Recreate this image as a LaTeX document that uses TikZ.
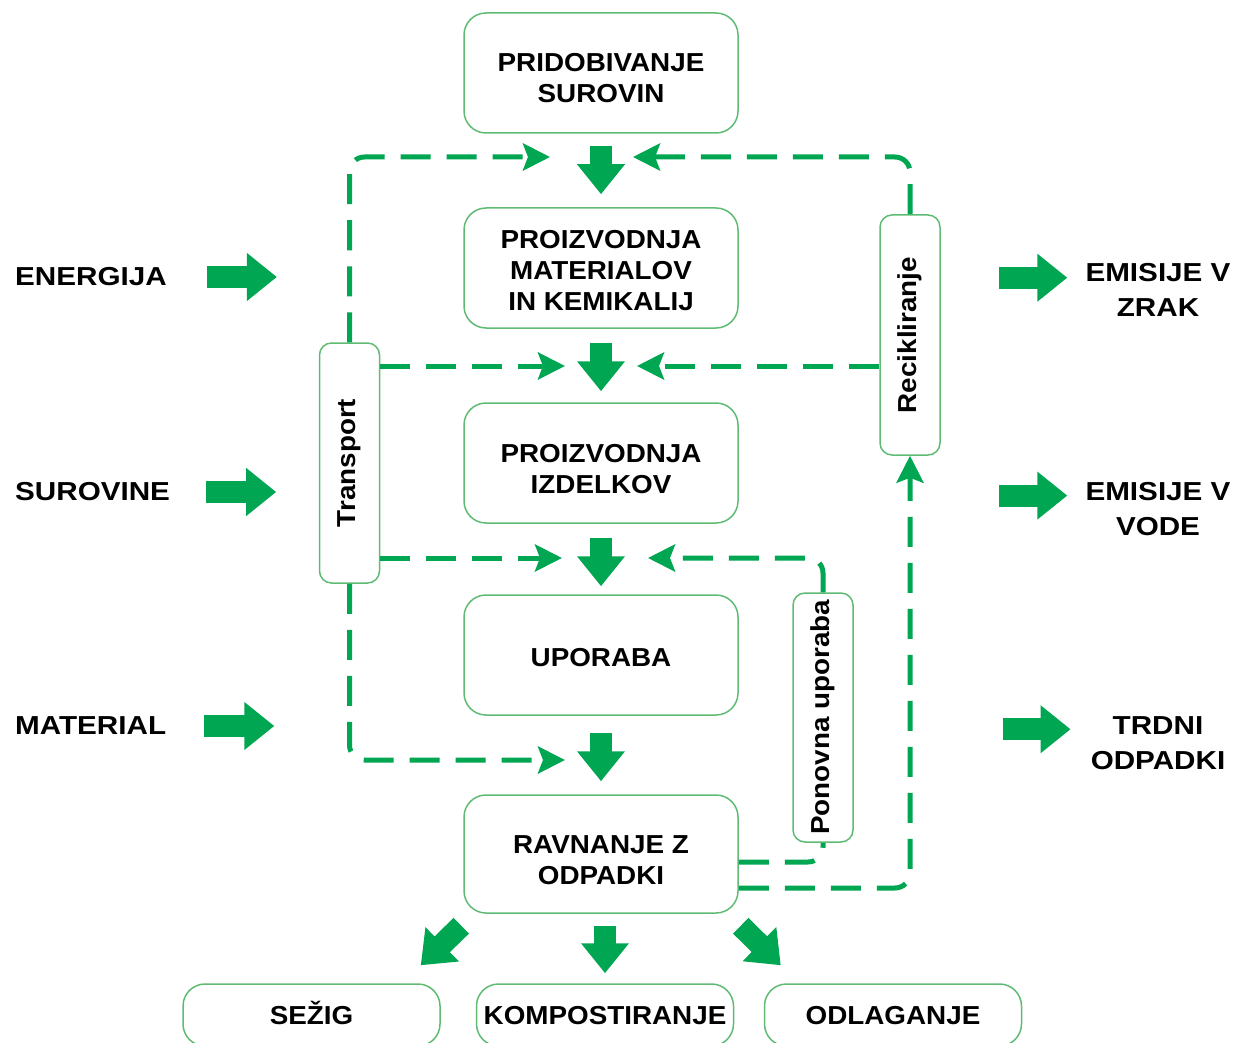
\documentclass[tikz,border=0pt]{standalone}
\usepackage{fontspec}
\setmainfont{Liberation Sans}
\newfontfamily\stagefam{Liberation Sans}[FakeStretch=1.07]
\newfontfamily\sidefam{Liberation Sans}[FakeStretch=1.14]
\usepackage{tikz}
\usetikzlibrary{arrows.meta,calc}
\definecolor{arrgreen}{RGB}{0,166,81}
\definecolor{boxgreen}{RGB}{95,187,115}
\newcommand{\boxfont}{\stagefam\fontsize{26}{31}\selectfont\bfseries}
\newcommand{\sidefont}{\sidefam\fontsize{26}{35}\selectfont\bfseries}

\begin{document}
\begin{tikzpicture}[x=1pt,y=-1pt,
    stage/.style={draw=boxgreen, line width=1.5pt, rounded corners=22pt, minimum width=274pt,
      minimum height=120pt, inner sep=0pt, align=center, font=\boxfont},
    endbox/.style={stage, minimum width=257pt, minimum height=62pt, text height=19pt, text depth=0pt},
    vbox/.style={draw=boxgreen, line width=1.5pt, rounded corners=12pt, minimum width=60pt,
      inner sep=0pt, font=\boxfont},
    side/.style={inner sep=0pt, align=center, font=\sidefont},
    blk/.style={arrgreen, line width=22pt, -{Triangle[length=30pt,width=46pt]}},
    flowline/.style={arrgreen, line width=5pt, dash pattern=on 30pt off 16pt, rounded corners=15pt},
    flow/.style={flowline, -{Stealth[length=27pt,width=27pt,inset=5pt]}}]
  \useasboundingbox (0,0) rectangle (1234,1043);

  % main chain
  \node[stage, text height=60pt] (pri) at (601,73) {PRIDOBIVANJE\\SUROVIN};
  \node[stage, text height=86pt] (mat) at (601,268) {PROIZVODNJA\\MATERIALOV\\IN KEMIKALIJ};
  \node[stage, text height=61pt] (izd) at (601,463) {PROIZVODNJA\\IZDELKOV};
  \node[stage, text height=24pt] (upo) at (601,655) {UPORABA};
  \node[stage, text height=61pt, minimum height=118pt] (rav) at (601,854) {RAVNANJE Z\\ODPADKI};
  \node[endbox] (sez) at (311.5,1015) {SEŽIG};
  \node[endbox] (kom) at (605,1015) {KOMPOSTIRANJE};
  \node[endbox] (odl) at (893,1015) {ODLAGANJE};

  % side boxes
  \node[vbox, minimum height=240pt] (tra) at (349.5,463) {\rotatebox{90}{Transport}};
  \node[vbox, minimum height=240pt] (rec) at (910,335) {\rotatebox{90}{Recikliranje}};
  \node[vbox, minimum height=249pt] (pon) at (823,717.5) {\rotatebox{90}{Ponovna uporaba}};

  % inputs and outputs
  \node[side, anchor=west] (ene) at (15,277) {ENERGIJA};
  \node[side, anchor=west] (sur) at (15,492) {SUROVINE};
  \node[side, anchor=west] (mtl) at (15,726) {MATERIAL};
  \node[side] (zra) at (1158,289.5) {EMISIJE V\\ZRAK};
  \node[side] (vod) at (1158,509.5) {EMISIJE V\\VODE};
  \node[side] (odp) at (1158,743) {TRDNI\\ODPADKI};

  \draw[blk] ($(ene.east)+(40,0)$) -- ++(70,0);
  \draw[blk] ($(sur.east)+(36,0)$) -- ++(70,0);
  \draw[blk] ($(mtl.east)+(38,0)$) -- ++(70,0);
  \draw[blk] ($(zra.north west)+(-86,15)$) -- ++(68,0);
  \draw[blk] ($(vod.north west)+(-86,13)$) -- ++(68,0);
  \draw[blk] ($(odp.north west)+(-88,13)$) -- ++(68,0);

  % block arrows down the chain
  \draw[blk, shorten <=12pt, shorten >=13pt] (pri.south) -- (mat.north);
  \draw[blk, shorten <=14pt, shorten >=11pt] (mat.south) -- (izd.north);
  \draw[blk, shorten <=14pt, shorten >=8pt] (izd.south) -- (upo.north);
  \draw[blk, shorten <=17pt, shorten >=13pt] (upo.south) -- (rav.north);
  \draw[blk, shorten <=12pt, shorten >=10pt] (kom.north |- rav.south) -- (kom.north);
  \draw[blk] ($(rav.south west)+(-2,12)$) -- ($(sez.north east)+(-20,-18)$);
  \draw[blk] ($(rav.south east)+(2,12)$) -- ($(odl.north west)+(17,-18)$);

  % transport, recycling and reuse loops
  \draw[flow] (tra.north) |- (550,157);
  \draw[flow] (rec.north) |- (633,157);
  \draw[flow] (tra.east |- 0,366) -- (565,366);
  \draw[flow] (rec.west |- 0,366) -- (637,366);
  \draw[flow] (tra.east |- 0,558) -- (562,558);
  \draw[flow] (pon.north) |- (648,558);
  \draw[flow] (tra.south) |- (565,760);
  \draw[flowline] ($(rav.east)+(0,8)$) -| (pon.south);
  \draw[flow] ($(rav.east)+(0,34)$) -| (rec.south);
\end{tikzpicture}
\end{document}
